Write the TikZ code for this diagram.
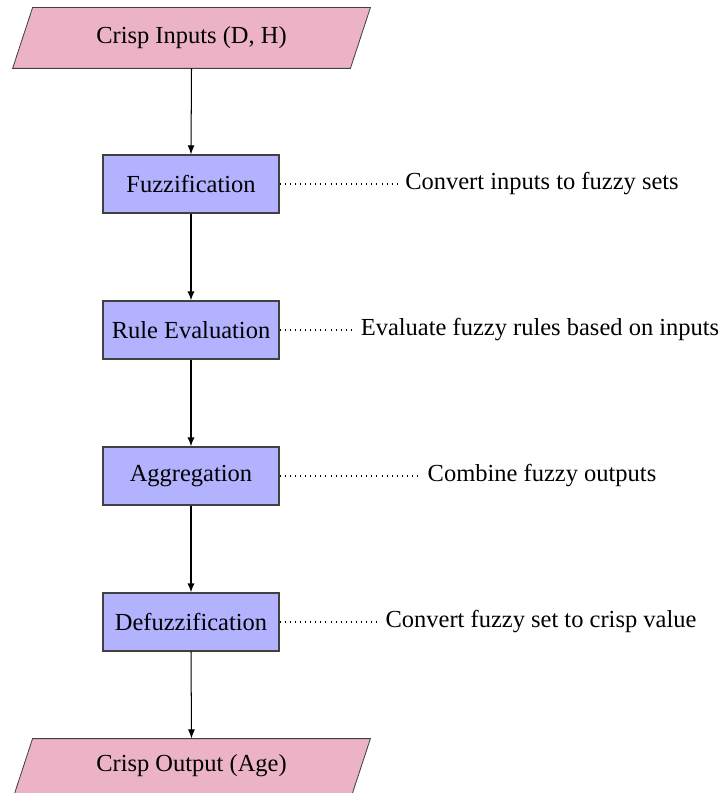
\documentclass[tikz,border=0pt]{standalone}
\usepackage{fontspec}
\setmainfont{Liberation Serif}
\usetikzlibrary{arrows.meta,calc}
\begin{document}
\begin{tikzpicture}[x=0.49pt,y=-0.49pt,
  every node/.style={font=\fontsize{12}{14}\selectfont},
  io/.style={minimum width=337*0.49pt, minimum height=60*0.49pt, inner sep=0pt},
  iofill/.style={fill=purple!30, draw=black!75, line width=0.4pt},
  procbox/.style={draw=black!75, fill=blue!30, minimum width=176*0.49pt, minimum height=58*0.49pt, inner sep=2pt, line width=0.5pt},
  note/.style={inner sep=0.333em},
  conn/.style={-{Latex[length=4.5pt,width=3.4pt]}, line width=0.5pt},
  connthick/.style={-{Latex[length=4.5pt,width=3.6pt]}, line width=0.8pt},
  aside/.style={dotted, line width=0.5pt}]
\useasboundingbox (0,0) rectangle (721,793);
% input / output shapes
\node[io] (in) at (191.5,38) {};
\node[io] (out) at (191.5,769) {};
\draw[iofill] ($(in.north west)+(10,0)$) -- ($(in.north east)+(10,0)$) -- ($(in.south east)+(-10,0)$) -- ($(in.south west)+(-10,0)$) -- cycle;
\draw[iofill] ($(out.north west)+(10,0)$) -- ($(out.north east)+(10,0)$) -- ($(out.south east)+(-10,0)$) -- ($(out.south west)+(-10,0)$) -- cycle;
\node at (in.center) {Crisp Inputs (D, H)};
\node at ($(out.center)+(0,-3)$) {Crisp Output (Age)};
% process boxes
\node[procbox] (fuzz) at (191,184) {Fuzzification};
\node[procbox] (rule) at (191,330) {Rule Evaluation};
\node[procbox] (agg) at (191,476) {Aggregation};
\node[procbox] (defuzz) at (191,622) {Defuzzification};
% notes
\node[note] (n1) at (542,184) {Convert inputs to fuzzy sets};
\node[note] (n2) at (540,330) {Evaluate fuzzy rules based on inputs};
\node[note] (n3) at (542,476) {Combine fuzzy outputs};
\node[note] (n4) at (541,622) {Convert fuzzy set to crisp value};
% connectors
\draw[conn] (in.south) -- (fuzz.north);
\draw[connthick] (fuzz.south) -- (rule.north);
\draw[connthick] (rule.south) -- (agg.north);
\draw[connthick] (agg.south) -- (defuzz.north);
\draw[conn] (defuzz.south) -- (out.north);
\draw[aside] (fuzz.east) -- (n1.west);
\draw[aside] (rule.east) -- (n2.west);
\draw[aside] (agg.east) -- (n3.west);
\draw[aside] (defuzz.east) -- (n4.west);
\end{tikzpicture}
\end{document}
